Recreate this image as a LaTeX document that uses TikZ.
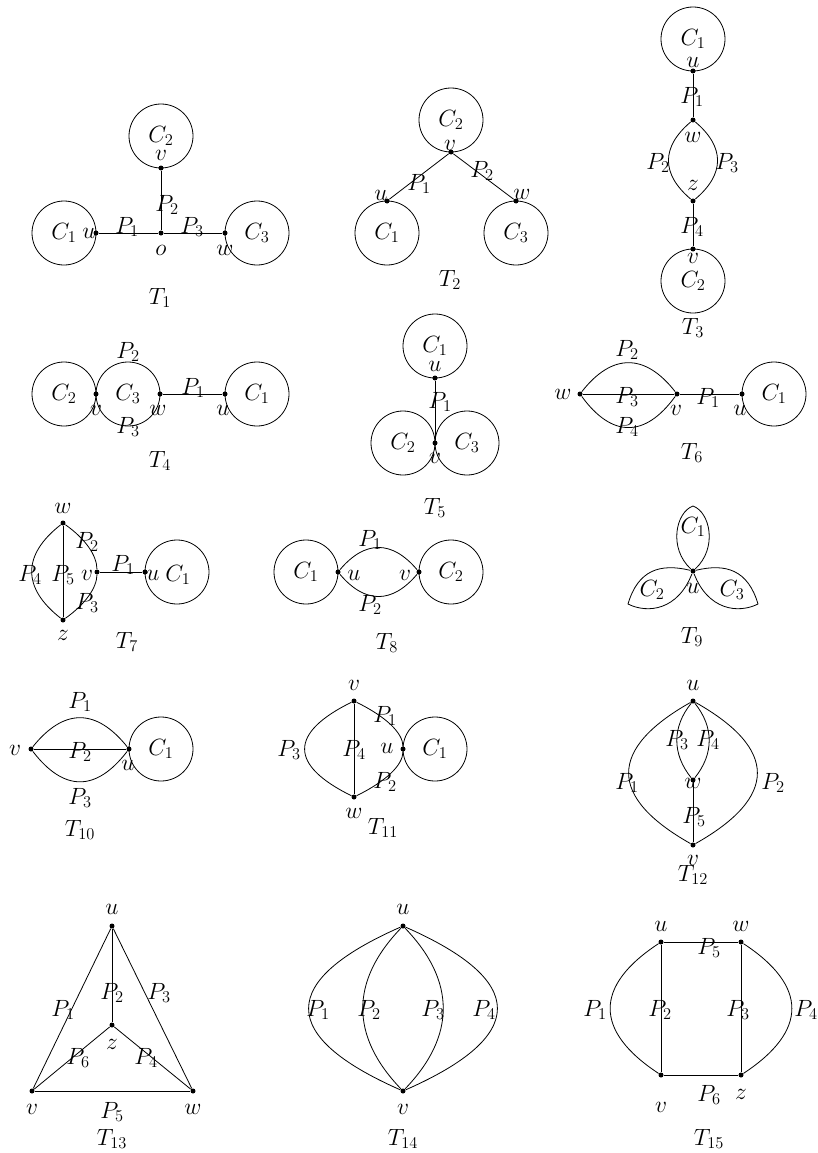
\RequirePackage{fix-cm}
\documentclass[tikz,border=0pt]{standalone}
\begin{document}
\begin{tikzpicture}[x=1pt,y=-1pt,line width=0.8pt,
  every node/.style={font=\fontsize{23.5}{28}\selectfont},
  dot/.style={circle,fill=black,inner sep=0pt,minimum size=5pt},
  cyc/.style={circle,draw,inner sep=0pt,minimum size=64pt},
  lbl/.style={inner sep=0pt}]
\useasboundingbox (0,0) rectangle (818,1153);
% ---------- T1
\node[cyc] (aC1) at (64,233) {$C_1$};
\node[cyc] (aC2) at (161,136) {$C_2$};
\node[cyc] (aC3) at (257,233) {$C_3$};
\node[dot] (au) at (96,233) {};
\node[dot] (ao) at (161,233) {};
\node[dot] (aw) at (225,233) {};
\node[dot] (av) at (161,168) {};
\draw (au) -- (ao); \draw (ao) -- (aw); \draw (av) -- (ao);
\node[lbl] (alu) at (89,233) {$u$};
\node[lbl] (alP1) at (127,227) {$P_1$};
\node[lbl] (alP2) at (167,205) {$P_2$};
\node[lbl] (alP3) at (192,227) {$P_3$};
\node[lbl] (alo) at (161,250) {$o$};
\node[lbl] (alw) at (225,250) {$w$};
\node[lbl] (alv) at (161,155) {$v$};
\node[lbl] (aT) at (160,298) {$T_1$};
% ---------- T2
\node[cyc] (bC2) at (451,120) {$C_2$};
\node[cyc] (bC1) at (387,233) {$C_1$};
\node[cyc] (bC3) at (516,233) {$C_3$};
\node[dot] (bv) at (451,152) {};
\node[dot] (bu) at (387,201) {};
\node[dot] (bw) at (516,201) {};
\draw (bv) -- (bu); \draw (bv) -- (bw);
\node[lbl] (blv) at (450,145) {$v$};
\node[lbl] (blu) at (381,195) {$u$};
\node[lbl] (blw) at (522,194) {$w$};
\node[lbl] (blP1) at (419,184) {$P_1$};
\node[lbl] (blP2) at (482,171) {$P_2$};
\node[lbl] (bT) at (450,280) {$T_2$};
% ---------- T3
\node[cyc] (cC1) at (693,39) {$C_1$};
\node[cyc] (cC2) at (693,281) {$C_2$};
\node[dot] (cu) at (693,71) {};
\node[dot] (cw) at (693,120) {};
\node[dot] (cz) at (693,201) {};
\node[dot] (cv) at (693,249) {};
\draw (cu) -- (cw); \draw (cz) -- (cv);
\draw (cw) .. controls (661,147) and (661,174) .. (cz);
\draw (cw) .. controls (725,147) and (725,174) .. (cz);
\node[lbl] (clu) at (693,62) {$u$};
\node[lbl] (clP1) at (692,97) {$P_1$};
\node[lbl] (clw) at (693,137) {$w$};
\node[lbl] (clP2) at (658,163) {$P_2$};
\node[lbl] (clP3) at (727,163) {$P_3$};
\node[lbl] (clz) at (693,185) {$z$};
\node[lbl] (clP4) at (692,227) {$P_4$};
\node[lbl] (clv) at (693,258) {$v$};
\node[lbl] (cT) at (693,328) {$T_3$};
% ---------- T4
\node[cyc] (dC2) at (64,394) {$C_2$};
\node[cyc] (dC3) at (128,394) {$C_3$};
\node[cyc] (dC1) at (257,394) {$C_1$};
\node[dot] (dv) at (96,394) {};
\node[dot] (dw) at (160,394) {};
\node[dot] (du) at (225,394) {};
\draw (dw) -- (du);
\node[lbl] (dlv) at (96,410) {$v$};
\node[lbl] (dlw) at (158,410) {$w$};
\node[lbl] (dlu) at (223,410) {$u$};
\node[lbl] (dlP2) at (128,352) {$P_2$};
\node[lbl] (dlP3) at (128,427) {$P_3$};
\node[lbl] (dlP1) at (193,388) {$P_1$};
\node[lbl] (dT) at (160,461) {$T_4$};
% ---------- T5
\node[cyc] (eC1) at (435,346) {$C_1$};
\node[cyc] (eC2) at (403,443) {$C_2$};
\node[cyc] (eC3) at (467,443) {$C_3$};
\node[dot] (eu) at (435,378) {};
\node[dot] (ev) at (435,443) {};
\draw (eu) -- (ev);
\node[lbl] (elu) at (435,366) {$u$};
\node[lbl] (elP1) at (440,402) {$P_1$};
\node[lbl] (elv) at (435,458) {$v$};
\node[lbl] (eT) at (435,508) {$T_5$};
% ---------- T6
\node[cyc] (fC1) at (774,394) {$C_1$};
\node[dot] (fw) at (580,394) {};
\node[dot] (fv) at (677,394) {};
\node[dot] (fu) at (742,394) {};
\draw (fw) -- (fv); \draw (fv) -- (fu);
\draw (fw) .. controls (612,353) and (645,353) .. (fv);
\draw (fw) .. controls (612,438) and (645,438) .. (fv);
\node[lbl] (flw) at (563,394) {$w$};
\node[lbl] (flP2) at (627,350) {$P_2$};
\node[lbl] (flP3) at (627,397) {$P_3$};
\node[lbl] (flP4) at (627,427) {$P_4$};
\node[lbl] (flv) at (676,410) {$v$};
\node[lbl] (flP1) at (708,398) {$P_1$};
\node[lbl] (flu) at (740,410) {$u$};
\node[lbl] (fT) at (692,453) {$T_6$};
% ---------- T7
\node[cyc] (gC1) at (177,572) {};
\node[dot] (gw) at (63,523) {};
\node[dot] (gz) at (63,620) {};
\node[dot] (gv) at (97,572) {};
\node[dot] (gu) at (145,572) {};
\draw (gw) -- (gz); \draw (gv) -- (gu);
\draw (gw) .. controls (22,555) and (22,588) .. (gz);
\draw (gw) .. controls (85.5,539) and (96.75,555.25) .. (gv);
\draw (gv) .. controls (96.75,587.75) and (85.5,604) .. (gz);
\node[lbl] (glw) at (63,508) {$w$};
\node[lbl] (glz) at (63,635) {$z$};
\node[lbl] (glP4) at (30,575) {$P_4$};
\node[lbl] (glP5) at (63,575) {$P_5$};
\node[lbl] (glv) at (87,575) {$v$};
\node[lbl] (glP2) at (87,542) {$P_2$};
\node[lbl] (glP3) at (87,603) {$P_3$};
\node[lbl] (glP1) at (123,565) {$P_1$};
\node[lbl] (glu) at (153,575) {$u$};
\node[lbl] (glC1) at (178,575) {$C_1$};
\node[lbl] (gT) at (127,642) {$T_7$};
% ---------- T8
\node[cyc] (hC1) at (306,572) {$C_1$};
\node[cyc] (hC2) at (451,572) {$C_2$};
\node[dot] (hu) at (338,572) {};
\node[dot] (hv) at (419,572) {};
\draw (hu) .. controls (365,540) and (392,540) .. (hv);
\draw (hu) .. controls (365,604) and (392,604) .. (hv);
\node[lbl] (hlP1) at (370,540) {$P_1$};
\node[lbl] (hlP2) at (370,605) {$P_2$};
\node[lbl] (hlu) at (354,575) {$u$};
\node[lbl] (hlv) at (405,575) {$v$};
\node[lbl] (hT) at (387,643) {$T_8$};
% ---------- T9
\node[dot] (iu) at (693,571) {};
\coordinate (it1) at (693,506);
\coordinate (it2) at (628,604);
\coordinate (it3) at (758,604);
\draw (iu) .. controls (668,548) and (676,512) .. (it1) .. controls (710,512) and (718,548) .. (iu);
\draw (iu) .. controls (660,563) and (638,570) .. (it2) .. controls (648,614) and (678,610) .. (iu);
\draw (iu) .. controls (726,563) and (748,570) .. (it3) .. controls (738,614) and (708,610) .. (iu);
\node[lbl] (ilC1) at (693,527) {$C_1$};
\node[lbl] (ilC2) at (652,590) {$C_2$};
\node[lbl] (ilu) at (693,588) {$u$};
\node[lbl] (ilC3) at (732,590) {$C_3$};
\node[lbl] (iT) at (692,637) {$T_9$};
% ---------- T10
\node[cyc] (jC1) at (161,749) {$C_1$};
\node[dot] (jv) at (31,749) {};
\node[dot] (ju) at (129,749) {};
\draw (jv) -- (ju);
\draw (jv) .. controls (64,708) and (96,708) .. (ju);
\draw (jv) .. controls (64,792) and (96,792) .. (ju);
\node[lbl] (jlv) at (15,750) {$v$};
\node[lbl] (jlP1) at (80,702) {$P_1$};
\node[lbl] (jlP2) at (80,752) {$P_2$};
\node[lbl] (jlP3) at (80,798) {$P_3$};
\node[lbl] (jlu) at (128,765) {$u$};
\node[lbl] (jT) at (80,830) {$T_{10}$};
% ---------- T11
\node[cyc] (kC1) at (435,749) {$C_1$};
\node[dot] (kv) at (354,701) {};
\node[dot] (kw) at (354,797) {};
\node[dot] (ku) at (403,749) {};
\draw (kv) -- (kw);
\draw (kv) .. controls (289,733) and (289,765) .. (kw);
\draw (kv) .. controls (386.5,717) and (402.75,733) .. (ku);
\draw (ku) .. controls (402.75,765) and (386.5,781) .. (kw);
\node[lbl] (klv) at (354,685) {$v$};
\node[lbl] (klw) at (354,813) {$w$};
\node[lbl] (klP3) at (289,750) {$P_3$};
\node[lbl] (klP4) at (354,750) {$P_4$};
\node[lbl] (klu) at (387,748) {$u$};
\node[lbl] (klP1) at (385,716) {$P_1$};
\node[lbl] (klP2) at (385,782) {$P_2$};
\node[lbl] (kT) at (383,828) {$T_{11}$};
% ---------- T12
\node[dot] (lu) at (693,701) {};
\node[dot] (lw) at (693,780) {};
\node[dot] (lv) at (693,845) {};
\draw (lw) -- (lv);
\draw (lu) .. controls (608,749) and (608,797) .. (lv);
\draw (lu) .. controls (778,749) and (778,797) .. (lv);
\draw (lu) .. controls (672,727) and (672,754) .. (lw);
\draw (lu) .. controls (714,727) and (714,754) .. (lw);
\node[lbl] (llu) at (693,685) {$u$};
\node[lbl] (llP3) at (677,740) {$P_3$};
\node[lbl] (llP4) at (708,740) {$P_4$};
\node[lbl] (llw) at (693,783) {$w$};
\node[lbl] (llP1) at (627,783) {$P_1$};
\node[lbl] (llP2) at (773,783) {$P_2$};
\node[lbl] (llP5) at (694,817) {$P_5$};
\node[lbl] (llv) at (693,860) {$v$};
\node[lbl] (lT) at (693,875) {$T_{12}$};
% ---------- T13
\node[dot] (mu) at (112,926) {};
\node[dot] (mv) at (32,1091) {};
\node[dot] (mw) at (193,1091) {};
\node[dot] (mz) at (112,1025) {};
\draw (mu) -- (mv); \draw (mu) -- (mw); \draw (mv) -- (mw);
\draw (mu) -- (mz); \draw (mz) -- (mv); \draw (mz) -- (mw);
\node[lbl] (mlu) at (112,909) {$u$};
\node[lbl] (mlv) at (32,1109) {$v$};
\node[lbl] (mlw) at (193,1109) {$w$};
\node[lbl] (mlP1) at (63,1010) {$P_1$};
\node[lbl] (mlP2) at (112,993) {$P_2$};
\node[lbl] (mlP3) at (159,993) {$P_3$};
\node[lbl] (mlz) at (112,1044) {$z$};
\node[lbl] (mlP6) at (78,1058) {$P_6$};
\node[lbl] (mlP4) at (146,1058) {$P_4$};
\node[lbl] (mlP5) at (112,1112) {$P_5$};
\node[lbl] (mT) at (112,1139) {$T_{13}$};
% ---------- T14
\node[dot] (nu) at (403,926) {};
\node[dot] (nv) at (403,1091) {};
\draw (nu) .. controls (278,981) and (278,1036) .. (nv);
\draw (nu) .. controls (350,981) and (350,1036) .. (nv);
\draw (nu) .. controls (456,981) and (456,1036) .. (nv);
\draw (nu) .. controls (528,981) and (528,1036) .. (nv);
\node[lbl] (nlu) at (403,909) {$u$};
\node[lbl] (nlv) at (403,1109) {$v$};
\node[lbl] (nlP1) at (318,1010) {$P_1$};
\node[lbl] (nlP2) at (369,1010) {$P_2$};
\node[lbl] (nlP3) at (433,1010) {$P_3$};
\node[lbl] (nlP4) at (484,1010) {$P_4$};
\node[lbl] (nT) at (403,1139) {$T_{14}$};
% ---------- T15
\node[dot] (ou) at (661,942) {};
\node[dot] (ow) at (741,942) {};
\node[dot] (ov) at (661,1075) {};
\node[dot] (oz) at (741,1075) {};
\draw (ou) -- (ow); \draw (ov) -- (oz); \draw (ou) -- (ov); \draw (ow) -- (oz);
\draw (ou) .. controls (594,986) and (594,1031) .. (ov);
\draw (ow) .. controls (808,986) and (808,1031) .. (oz);
\node[lbl] (olu) at (661,926) {$u$};
\node[lbl] (olw) at (741,926) {$w$};
\node[lbl] (olP5) at (709,948) {$P_5$};
\node[lbl] (olP1) at (595,1010) {$P_1$};
\node[lbl] (olP2) at (660,1010) {$P_2$};
\node[lbl] (olP3) at (738,1010) {$P_3$};
\node[lbl] (olP4) at (806,1010) {$P_4$};
\node[lbl] (olP6) at (709,1095) {$P_6$};
\node[lbl] (olv) at (661,1107) {$v$};
\node[lbl] (olz) at (741,1094) {$z$};
\node[lbl] (oT) at (709,1139) {$T_{15}$};
\end{tikzpicture}
\end{document}
